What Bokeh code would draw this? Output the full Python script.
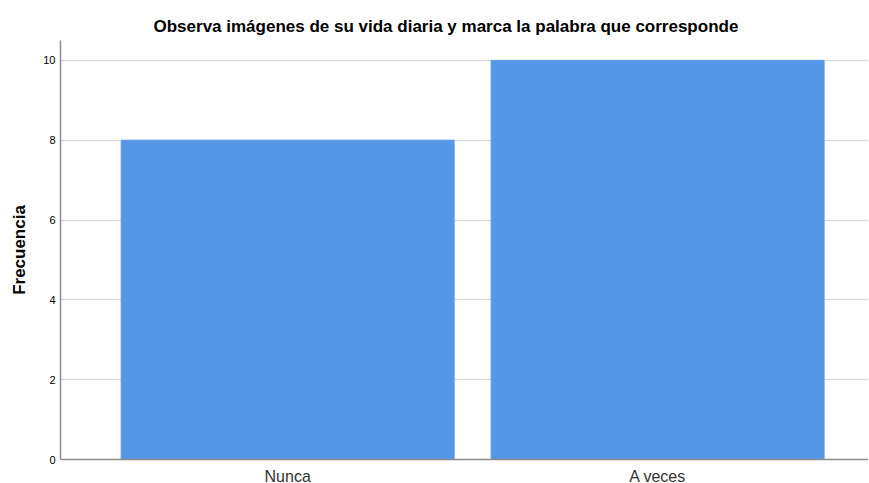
from bokeh.plotting import figure
from bokeh.models import FixedTicker, Range1d
from bokeh.embed import file_html
from bokeh.resources import INLINE

categories = ["Nunca", "A veces"]
frecuencia = [8, 10]
y_ticks = [0, 2, 4, 6, 8, 10]

xs = list(range(len(categories)))

p = figure(output_backend="svg", toolbar_location=None,
           frame_width=808, frame_height=419,
           min_border_left=60, min_border_right=0, min_border_top=40, min_border_bottom=10,
           x_range=Range1d(-0.614, 1.570), y_range=Range1d(0, 10.5),
           title="Observa imágenes de su vida diaria y marca la palabra que corresponde")

p.vbar(x=xs, top=frecuencia, width=0.9, bottom=0,
       fill_color="#5596e6", line_color="#5a9ae8", line_width=1)

p.title.align = "left"
p.title.offset = 93
p.title.text_font = "Liberation Sans"
p.title.text_font_size = "17px"
p.title.text_font_style = "bold"
p.title.text_color = "#000000"

p.outline_line_color = None
p.xgrid.grid_line_color = None
p.ygrid.grid_line_color = "#d9d9d9"
p.ygrid.grid_line_width = 1.5
p.ygrid.ticker = FixedTicker(ticks=y_ticks)

p.yaxis.ticker = FixedTicker(ticks=y_ticks)
p.yaxis.axis_label = "Frecuencia"
p.yaxis.axis_label_text_font = "Liberation Sans"
p.yaxis.axis_label_text_font_size = "17px"
p.yaxis.axis_label_text_font_style = "bold"
p.yaxis.axis_label_text_color = "#000000"
p.yaxis.axis_label_standoff = 11
p.yaxis.major_label_text_font = "Liberation Sans"
p.yaxis.major_label_text_font_size = "11px"
p.yaxis.major_label_text_color = "#000000"
p.yaxis.major_label_standoff = 5
p.yaxis.major_tick_out = 0
p.yaxis.major_tick_in = 0
p.yaxis.minor_tick_out = 0
p.yaxis.minor_tick_in = 0
p.yaxis.axis_line_color = "#8c8c8c"
p.yaxis.axis_line_width = 1.5

p.xaxis.ticker = FixedTicker(ticks=xs)
p.xaxis.major_label_overrides = {i: c for i, c in enumerate(categories)}
p.xaxis.major_label_text_font = "Liberation Sans"
p.xaxis.major_label_text_font_size = "16px"
p.xaxis.major_label_text_color = "#333333"
p.xaxis.major_label_standoff = 8
p.xaxis.major_tick_out = 0
p.xaxis.major_tick_in = 0
p.xaxis.minor_tick_out = 0
p.xaxis.minor_tick_in = 0
p.xaxis.axis_line_color = "#8c8c8c"
p.xaxis.axis_line_width = 1.5

open("out.html", "w").write(file_html(p, INLINE))
